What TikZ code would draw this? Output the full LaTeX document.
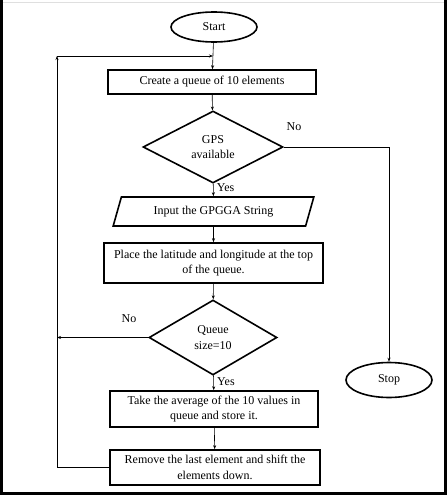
\documentclass[tikz,border=0pt]{standalone}
\usepackage{fontspec}
\setmainfont{Liberation Serif}
\usetikzlibrary{shapes.geometric,arrows.meta}

\begin{document}
\begin{tikzpicture}[x=1pt,y=-1pt,
    every node/.style={font=\fontsize{12}{15.5}\selectfont},
    box/.style={rectangle,draw,line width=1.6pt,align=center,inner sep=0pt},
    decision/.style={diamond,draw,line width=1.6pt,align=center,inner sep=0pt},
    terminal/.style={ellipse,draw,line width=1.6pt,inner sep=0pt},
    iobox/.style={trapezium,trapezium left angle=64,trapezium right angle=116,
        trapezium stretches=true,draw,line width=1.6pt,inner sep=0pt},
    arr/.style={-{Stealth[length=4pt,width=3pt]},line width=0.6pt}]

\useasboundingbox (0,0) rectangle (447,495);

% frame
\draw[gray!25] (0,2) -- (447,2);
\draw[line width=3pt] (1.5,0) -- (1.5,493) -- (445.5,493) -- (445.5,0);

\node[terminal,minimum width=86pt,minimum height=30pt] (start) at (214,27) {Start};
\node[box,minimum width=208pt,minimum height=24pt] (create) at (212,82) {Create a queue of 10 elements};
\node[decision,minimum width=140pt,minimum height=72pt] (gps) at (213,147) {GPS\\available};
\node[iobox,minimum width=201pt,minimum height=29pt] (input) at (213.5,211.5) {Input the GPGGA String};
\node[box,minimum width=219pt,minimum height=40pt] (place) at (213.5,263) {Place the latitude and longitude at the top\\of the queue.};
\node[decision,minimum width=128pt,minimum height=75pt] (queue) at (213,337.5) {Queue\\size=10};
\node[box,minimum width=208pt,minimum height=36pt] (avg) at (214,409) {Take the average of the 10 values in\\queue and store it.};
\node[box,minimum width=210pt,minimum height=35pt] (remove) at (215,467.5) {Remove the last element and shift the\\elements down.};
\node[terminal,minimum width=86pt,minimum height=35pt] (stop) at (389,380) {Stop};

\coordinate (loopt) at (57,56);
\coordinate (loopj) at (213,56);

% main flow
\draw[arr] (start) -- (create);
\draw[arr] (create) -- (gps);
\draw[arr] (gps) -- node[right,pos=0.35] {Yes} (input);
\draw[arr] (input) -- (place);
\draw[arr] (place) -- (queue);
\draw[arr] (queue) -- node[right,pos=0.4] {Yes} (avg);
\draw[arr] (avg) -- (remove);

% no branches
\draw[arr] (gps.east) -| (stop.north);
\node (gpsno) at (294,127) {No};
\draw[arr] (queue.west) -- (queue.west -| loopt);
\node (queueno) at (129,319) {No};

% loop back
\draw[arr] (remove.west) -| (loopt);
\draw[arr] (loopt) -- (loopj);

\end{tikzpicture}
\end{document}
